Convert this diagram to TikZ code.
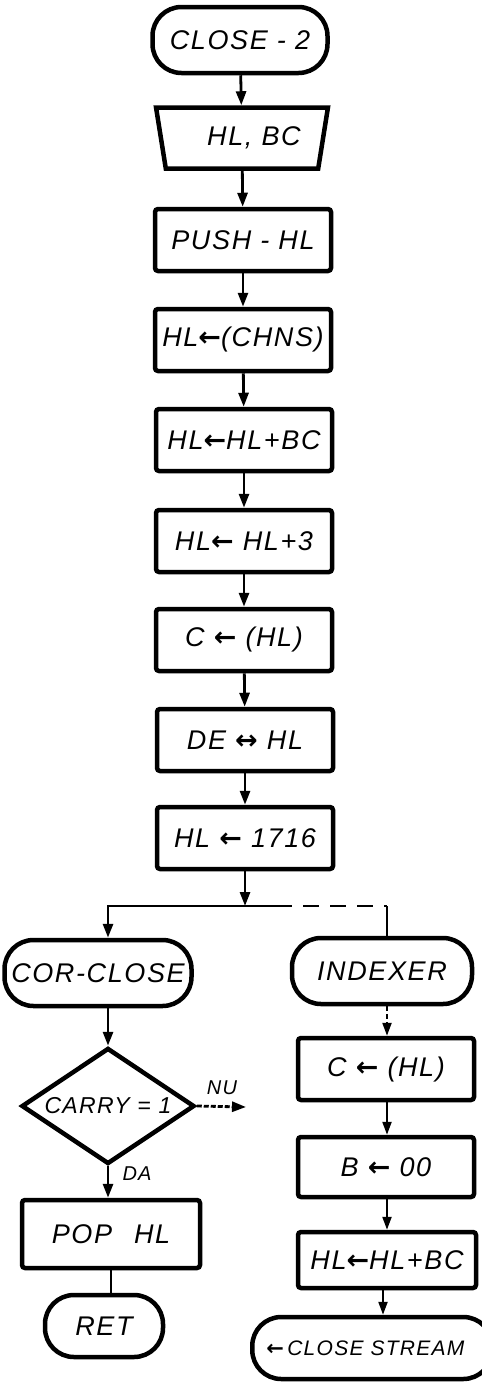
\documentclass[tikz,border=0pt]{standalone}
\usepackage{fontspec}
\newfontfamily\handfont{Liberation Sans}[LetterSpace=6]
\newfontfamily\arrowfont{DejaVu Sans}
\newcommand{\flowfont}{\handfont\itshape\fontsize{27}{30}\selectfont}
\newcommand{\smallflowfont}{\handfont\itshape\fontsize{23}{26}\selectfont}
\newcommand{\tagfont}{\handfont\itshape\fontsize{20}{24}\selectfont}
\newcommand{\lto}{{\arrowfont\bfseries ←}}
\newcommand{\lrto}{{\arrowfont\bfseries ↔}}
\usetikzlibrary{shapes.geometric,arrows.meta,positioning}

\begin{document}
\begin{tikzpicture}[x=1pt, y=-1pt,
    terminal/.style={rectangle, rounded corners=29pt, draw, line width=4.5pt,
        minimum height=66pt, inner xsep=2pt, font=\flowfont},
    iobox/.style={trapezium, trapezium stretches=true, shape border rotate=180,
        trapezium left angle=75, trapezium right angle=75, draw, line width=4.5pt,
        minimum width=172pt, minimum height=61pt, inner xsep=2pt, font=\flowfont},
    process/.style={rectangle, rounded corners=3pt, draw, line width=4.5pt,
        minimum width=176pt, minimum height=62pt, inner xsep=1pt, font=\flowfont},
    decision/.style={diamond, aspect=1.5, draw, line width=4.5pt,
        minimum width=173pt, minimum height=116pt, inner sep=0pt, font=\smallflowfont},
    tag/.style={font=\tagfont, inner sep=1pt},
    arr/.style={-{Triangle[length=14pt, width=10pt]}, line width=2.8pt},
    thinarr/.style={-{Triangle[length=13pt, width=9pt]}, line width=2.2pt},
    line/.style={line width=2.8pt}
]
    \useasboundingbox (0,0) rectangle (482,1382);

    % main column
    \node[terminal, minimum width=175pt] (start) at (240,40) {CLOSE - 2};
    \node[iobox] (load) at (242,138) {\hspace*{24pt}HL, BC};
    \node[process] (push) at (243,240) {PUSH - HL};
    \node[process] (chns) at (243,340) {HL\lto(CHNS)};
    \node[process] (addbc) at (244,440) {HL\lto HL+BC};
    \node[process] (add3) at (244,541) {HL\lto\ HL+3};
    \node[process] (ldc) at (244,640) {C \lto\ (HL)};
    \node[process] (xchg) at (245,740) {DE \lrto\ HL};
    \node[process] (ld1716) at (245,838) {HL \lto\ 1716};

    \draw[arr] (start) -- (load);
    \draw[arr] (load) -- (push);
    \draw[arr] (push) -- (chns);
    \draw[arr] (chns) -- (addbc);
    \draw[arr] (addbc) -- (add3);
    \draw[arr] (add3) -- (ldc);
    \draw[arr] (ldc) -- (xchg);
    \draw[arr] (xchg) -- (ld1716);

    % branch: solid to the left, dashed to the right
    \coordinate (split) at (245,906);
    \coordinate (splitl) at (108,906);
    \coordinate (dashfrom) at (276,906);
    \coordinate (splitr) at (387,906);
    \draw[arr] (ld1716) -- (split);

    \node[terminal, minimum width=187pt] (corclose) at (98,973) {COR-CLOSE};
    \node[terminal, minimum width=180pt] (indexer) at (382,971) {INDEXER};

    \draw[arr] (dashfrom) -- (splitl) -- (splitl |- corclose.north);
    \draw[line, dash pattern=on 16pt off 11pt] (dashfrom) -- (splitr);
    \draw[line] (splitr) -- (splitr |- indexer.north);

    % left: COR-CLOSE
    \node[decision] (carry) at (108,1106) {CARRY = 1};
    \node[process, minimum width=178pt, minimum height=68pt] (pop) at (111,1234) {POP\hspace{22pt}HL};
    \node[terminal, minimum width=118pt, minimum height=62pt] (ret) at (104,1326) {RET};
    \coordinate (nuend) at (246,1107);

    \draw[arr] (splitl |- corclose.south) -- (carry.north);
    \draw[arr, dash pattern=on 5pt off 2pt] (carry.east) -- (nuend);
    \node[tag] (nu) at (222,1088) {NU};
    \draw[arr] (carry.south) -- (carry.south |- pop.north);
    \node[tag] (da) at (137,1174) {DA};
    \draw[line] (pop.south) -- (pop.south |- ret.north);

    % right: INDEXER
    \node[process] (ldc2) at (386,1069) {C \lto\ (HL)};
    \node[process, minimum height=60pt] (ldb) at (386,1167) {B \lto\ 00};
    \node[process, minimum width=178pt, minimum height=56pt] (addbc2) at (387,1260) {HL\lto HL+BC};
    \node[terminal, minimum width=240pt, minimum height=62pt, anchor=west,
          font=\handfont\itshape\fontsize{21}{24}\selectfont, align=left,
          text width=212pt] (stream) at (250,1348) {\lto\,CLOSE STREAM};

    \draw[thinarr, dash pattern=on 5pt off 3pt] (splitr |- indexer.south) -- (splitr |- ldc2.north);
    \draw[thinarr] (splitr |- ldc2.south) -- (splitr |- ldb.north);
    \draw[thinarr] (splitr |- ldb.south) -- (splitr |- addbc2.north);
    \draw[thinarr] (addbc2.south -| 383,0) -- (383,0 |- stream.north);
\end{tikzpicture}
\end{document}
